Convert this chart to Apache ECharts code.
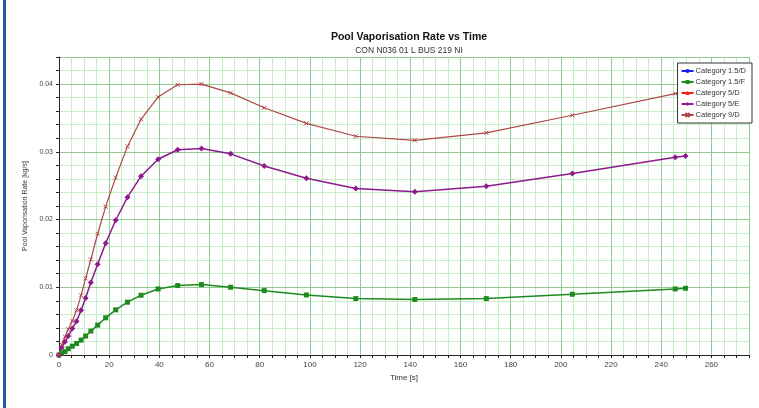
<!DOCTYPE html>
<html>
<head>
<meta charset="utf-8">
<script src="https://cdn.jsdelivr.net/npm/echarts@6/dist/echarts.min.js"></script>
<style>
  html, body { margin: 0; padding: 0; background: #fff; }
  #main { width: 759px; height: 408px; }
</style>
</head>
<body>
<div id="main"></div>
<script>
// time steps [s]
var times = [0, 1.07, 2.4, 3.7, 5.3, 7.0, 8.8, 10.6, 12.7, 15.4, 18.6, 22.6, 27.3, 32.7,
    39.5, 47.3, 56.8, 68.4, 81.8, 98.6, 118.3, 141.8, 170.3, 204.6, 245.6, 249.7];

// pool vaporisation rate [kg/s]
var cat15F = [0, 0.0003, 0.0005, 0.00093, 0.0013, 0.0017, 0.0022, 0.0028, 0.00353, 0.00441, 0.00549,
    0.00667, 0.0078, 0.00882, 0.00975, 0.01025, 0.0104, 0.0100, 0.0095, 0.00887, 0.00833, 0.00819,
    0.00833, 0.00897, 0.00975, 0.00985];
var cat5E = [0, 0.0011, 0.00196, 0.0028, 0.0039, 0.0050, 0.0066, 0.0084, 0.0107, 0.0134, 0.0165,
    0.0199, 0.0233, 0.0264, 0.0289, 0.0303, 0.0305, 0.0297, 0.0279, 0.0261, 0.0246, 0.0241,
    0.0249, 0.0268, 0.0292, 0.0294];
var cat9D = [0, 0.0015, 0.0027, 0.0038, 0.0050, 0.0066, 0.0088, 0.0113, 0.0141, 0.0179, 0.0219,
    0.0262, 0.0308, 0.0348, 0.0381, 0.0399, 0.0400, 0.0387, 0.0365, 0.0342, 0.0323, 0.0317,
    0.0328, 0.0354, 0.0386, 0.0389];
var cat15D = [];
var cat5D = [];

function pairs(ys) {
    return ys.map(function (y, i) { return [times[i], y]; });
}

var chartDom = document.getElementById('main');
var myChart = echarts.init(chartDom);
var option;

var major = '#8fcb8f';
var minor = '#c8ecc8';
var font = 'Liberation Sans, sans-serif';

option = {
    backgroundColor: '#fff',
    graphic: [{
        type: 'rect',
        left: 3, top: 0,
        shape: { width: 3, height: 408 },
        style: { fill: '#2c56a6' }
    }],
    title: {
        text: 'Pool Vaporisation Rate vs Time',
        subtext: 'CON N036 01 L BUS 219 NI',
        left: 404,
        textAlign: 'center',
        top: 27,
        itemGap: 3,
        textStyle: { fontSize: 10.5, fontWeight: 'bold', color: '#111', fontFamily: font },
        subtextStyle: { fontSize: 8.5, color: '#333', fontFamily: font }
    },
    legend: {
        orient: 'vertical',
        right: 7,
        top: 63,
        itemWidth: 12,
        itemHeight: 5,
        itemGap: 3,
        padding: [4, 6, 4, 3],
        backgroundColor: '#fff',
        borderColor: '#333',
        borderWidth: 1,
        textStyle: { fontSize: 7.5, lineHeight: 7, color: '#333', fontFamily: font, padding: [0, 0, 0, -3] },
        data: ['Category 1.5/D', 'Category 1.5/F', 'Category 5/D', 'Category 5/E', 'Category 9/D']
    },
    grid: {
        left: 59,
        right: 10,
        top: 57,
        bottom: 53
    },
    xAxis: [
        {
            // major grid + labels
            type: 'value',
            min: 0,
            max: 275,
            interval: 20,
            z: 3,
            name: 'Time [s]',
            nameLocation: 'middle',
            nameGap: 19,
            nameTextStyle: { fontSize: 8, color: '#333', fontFamily: font },
            axisLine: { lineStyle: { color: '#222', width: 1 } },
            axisTick: { show: false },
            axisLabel: { fontSize: 8, color: '#444', margin: 6, fontFamily: font, showMaxLabel: false },
            splitLine: { show: true, lineStyle: { color: major, width: 1 } }
        },
        {
            // minor grid + ticks
            type: 'value',
            min: 0,
            max: 275,
            interval: 5,
            position: 'bottom',
            axisLine: { show: false },
            axisTick: { show: true, length: 3, lineStyle: { color: '#222' } },
            axisLabel: { show: false },
            splitLine: { show: true, lineStyle: { color: minor, width: 1 } }
        }
    ],
    yAxis: [
        {
            type: 'value',
            min: 0,
            max: 0.044,
            interval: 0.01,
            z: 3,
            name: 'Pool Vaporisation Rate [kg/s]',
            nameLocation: 'middle',
            nameGap: 24,
            nameTextStyle: { fontSize: 7, color: '#333', fontFamily: font },
            axisLine: { show: true, lineStyle: { color: '#222', width: 1 } },
            axisTick: { show: false },
            axisLabel: { fontSize: 7, color: '#444', margin: 6, fontFamily: font, showMaxLabel: false },
            splitLine: { show: true, lineStyle: { color: major, width: 1 } }
        },
        {
            type: 'value',
            min: 0,
            max: 0.044,
            interval: 0.002,
            position: 'left',
            axisLine: { show: false },
            axisTick: { show: true, length: 3, lineStyle: { color: '#222' } },
            axisLabel: { show: false },
            splitLine: { show: true, lineStyle: { color: minor, width: 1 } }
        }
    ],
    series: [
        {
            name: 'Category 1.5/D',
            type: 'line',
            data: pairs(cat15D),
            symbol: 'circle',
            symbolSize: 5,
            itemStyle: { color: '#1a1aff' },
            lineStyle: { color: '#1a1aff', width: 1.5 }
        },
        {
            name: 'Category 1.5/F',
            type: 'line',
            data: pairs(cat15F),
            symbol: 'rect',
            symbolSize: 5,
            itemStyle: { color: '#1f8a1f' },
            lineStyle: { color: '#1f8a1f', width: 1.5 }
        },
        {
            name: 'Category 5/D',
            type: 'line',
            data: pairs(cat5D),
            symbol: 'triangle',
            symbolSize: 5,
            itemStyle: { color: '#ff1a1a' },
            lineStyle: { color: '#ff1a1a', width: 1.5 }
        },
        {
            name: 'Category 5/E',
            type: 'line',
            data: pairs(cat5E),
            symbol: 'diamond',
            symbolSize: 6,
            itemStyle: { color: '#8e1a8e' },
            lineStyle: { color: '#8e1a8e', width: 1.5 }
        },
        {
            name: 'Category 9/D',
            type: 'line',
            data: pairs(cat9D),
            symbol: 'path://M0,0L10,10M10,0L0,10',
            symbolSize: 4,
            itemStyle: { color: '#b04646', borderColor: '#b04646', borderWidth: 1 },
            lineStyle: { color: '#b04646', width: 1.2 }
        }
    ]
};

option && myChart.setOption(option);
</script>
</body>
</html>
